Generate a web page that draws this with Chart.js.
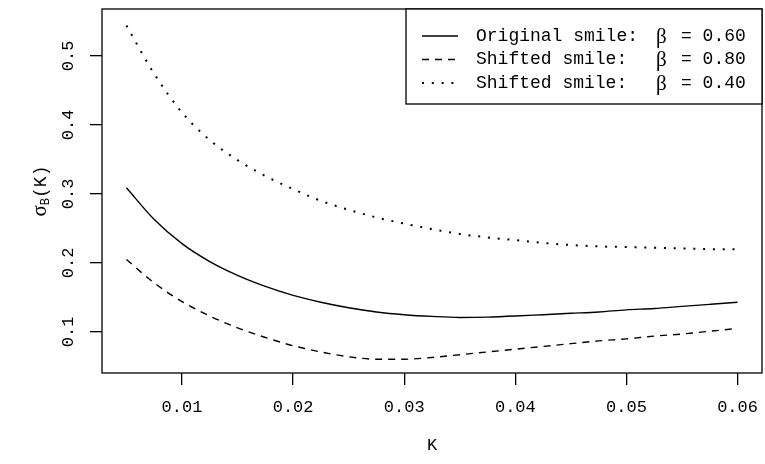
<!DOCTYPE html>
<html>
<head>
<meta charset="utf-8">
<script src="https://cdn.jsdelivr.net/npm/chart.js@4.4.1/dist/chart.umd.min.js"></script>
<style>
  html, body { margin: 0; padding: 0; background: #fff; }
</style>
</head>
<body>
<canvas id="smileChart" width="765" height="464"></canvas>
<script>
// strikes K and implied vols
var strikes = [0.005, 0.0075, 0.01, 0.0125, 0.015, 0.0175, 0.02, 0.0225, 0.025, 0.0275,
  0.03, 0.0325, 0.035, 0.0375, 0.04, 0.0425, 0.045, 0.0475, 0.05, 0.0525, 0.055, 0.0575, 0.06];
var originalSmile = [0.309, 0.263, 0.228, 0.202, 0.182, 0.166, 0.153, 0.143, 0.135, 0.129,
  0.125, 0.1225, 0.121, 0.1215, 0.123, 0.125, 0.127, 0.129, 0.132, 0.134, 0.137, 0.140, 0.143];
var shiftedHigh = [0.205, 0.171, 0.144, 0.123, 0.106, 0.092, 0.080, 0.071, 0.064, 0.0605,
  0.0605, 0.063, 0.067, 0.071, 0.075, 0.079, 0.083, 0.087, 0.090, 0.094, 0.097, 0.101, 0.105];
var shiftedLow = [0.544, 0.474, 0.418, 0.378, 0.349, 0.326, 0.307, 0.290, 0.277, 0.266,
  0.257, 0.249, 0.242, 0.237, 0.233, 0.229, 0.226, 0.224, 0.223, 0.222, 0.221, 0.220, 0.220];

var xTicks = [0.01, 0.02, 0.03, 0.04, 0.05, 0.06];
var yTicks = [0.1, 0.2, 0.3, 0.4, 0.5];
var seriesNames = ['Original smile:', 'Shifted smile:', 'Shifted smile:'];
var betas = ['0.60', '0.80', '0.40'];

var mono = "'Liberation Mono', 'DejaVu Sans Mono', monospace";
var serif = "'Liberation Serif', 'DejaVu Serif', serif";

Chart.defaults.font.family = mono;
Chart.defaults.font.size = 17;
Chart.defaults.color = '#000';

function pairs(ys) {
  return strikes.map(function (k, i) { return { x: k, y: ys[i] }; });
}

// box round the plot region, like R's bty="o"
var framePlugin = {
  id: 'frame',
  afterDatasetsDraw: function (chart) {
    var a = chart.chartArea, ctx = chart.ctx;
    ctx.save();
    ctx.strokeStyle = '#000';
    ctx.lineWidth = 1.3;
    ctx.strokeRect(a.left, a.top, a.right - a.left, a.bottom - a.top);
    ctx.restore();
  }
};

// y axis title with subscript
var yTitlePlugin = {
  id: 'yTitle',
  afterDraw: function (chart) {
    var a = chart.chartArea, ctx = chart.ctx;
    ctx.save();
    ctx.translate(40, (a.top + a.bottom) / 2);
    ctx.rotate(-Math.PI / 2);
    ctx.fillStyle = '#000';
    ctx.textBaseline = 'alphabetic';
    ctx.font = '21px ' + serif;
    var wS = ctx.measureText('σ').width;
    ctx.font = '12px ' + mono;
    var wB = ctx.measureText('B').width;
    ctx.font = '18px ' + mono;
    var wK = ctx.measureText('(K)').width;
    var x = -(wS + wB + wK) / 2;
    ctx.font = '21px ' + serif;
    ctx.fillText('σ', x, 6);
    ctx.font = '12px ' + mono;
    ctx.fillText('B', x + wS, 9);
    ctx.font = '18px ' + mono;
    ctx.fillText('(K)', x + wS + wB, 6);
    ctx.restore();
  }
};

// legend in the top right corner
var legendPlugin = {
  id: 'boxLegend',
  afterDraw: function (chart) {
    var a = chart.chartArea, ctx = chart.ctx;
    var left = 406, top = a.top, right = a.right, bottom = 104;
    ctx.save();
    ctx.fillStyle = '#fff';
    ctx.fillRect(left, top, right - left, bottom - top);
    ctx.strokeStyle = '#000';
    ctx.lineWidth = 1.3;
    ctx.strokeRect(left, top, right - left, bottom - top);
    chart.data.datasets.forEach(function (ds, i) {
      var y = 36 + i * 23.5;
      ctx.beginPath();
      ctx.setLineDash(ds.borderDash || []);
      ctx.lineWidth = ds.borderWidth;
      ctx.moveTo(422, y);
      ctx.lineTo(458, y);
      ctx.stroke();
      ctx.setLineDash([]);
      ctx.fillStyle = '#000';
      ctx.textBaseline = 'middle';
      ctx.font = '18px ' + mono;
      ctx.fillText(seriesNames[i], 476, y);
      ctx.font = '21px ' + serif;
      ctx.fillText('β', 656, y + 1);
      ctx.font = '18px ' + mono;
      ctx.fillText('= ' + betas[i], 681, y);
    });
    ctx.restore();
  }
};

var ctx = document.getElementById('smileChart').getContext('2d');

var smileChart = new Chart(ctx, {
  type: 'line',
  data: {
    datasets: [{
      label: seriesNames[0] + ' β = ' + betas[0],
      data: pairs(originalSmile),
      borderColor: '#000',
      borderWidth: 1.4
    }, {
      label: seriesNames[1] + ' β = ' + betas[1],
      data: pairs(shiftedHigh),
      borderColor: '#000',
      borderWidth: 1.4,
      borderDash: [7, 6]
    }, {
      label: seriesNames[2] + ' β = ' + betas[2],
      data: pairs(shiftedLow),
      borderColor: '#000',
      borderWidth: 2,
      borderDash: [2, 7.8]
    }]
  },
  options: {
    responsive: false,
    animation: false,
    devicePixelRatio: 1,
    layout: { padding: { left: 0, right: 3, top: 9, bottom: 0 } },
    elements: {
      point: { radius: 0 },
      line: { tension: 0.4, cubicInterpolationMode: 'monotone', fill: false }
    },
    plugins: {
      legend: { display: false },
      tooltip: { enabled: false }
    },
    scales: {
      x: {
        type: 'linear',
        min: 0.0028,
        max: 0.0622,
        afterBuildTicks: function (s) { s.ticks = xTicks.map(function (v) { return { value: v }; }); },
        afterFit: function (s) {
          s.height = 91;
          s.paddingLeft = 0; s.paddingRight = 0;
        },
        ticks: {
          callback: function (v) { return v.toFixed(2); },
          padding: 12,
          maxRotation: 0,
          autoSkip: false
        },
        grid: { drawOnChartArea: false, drawTicks: true, tickLength: 12, color: '#000', lineWidth: 1.3 },
        border: { display: false },
        title: { display: true, text: 'K', padding: { top: 0, bottom: 8 } }
      },
      y: {
        type: 'linear',
        min: 0.0405,
        max: 0.568,
        afterBuildTicks: function (s) { s.ticks = yTicks.map(function (v) { return { value: v }; }); },
        afterFit: function (s) {
          s.width = 102;
          s.paddingTop = 0; s.paddingBottom = 0;
        },
        ticks: {
          callback: function (v) { return v.toFixed(1); },
          minRotation: 90,
          maxRotation: 90,
          crossAlign: 'center',
          padding: 6,
          autoSkip: false
        },
        grid: { drawOnChartArea: false, drawTicks: true, tickLength: 12, color: '#000', lineWidth: 1.3 },
        border: { display: false }
      }
    }
  },
  plugins: [framePlugin, yTitlePlugin, legendPlugin]
});
</script>
</body>
</html>
